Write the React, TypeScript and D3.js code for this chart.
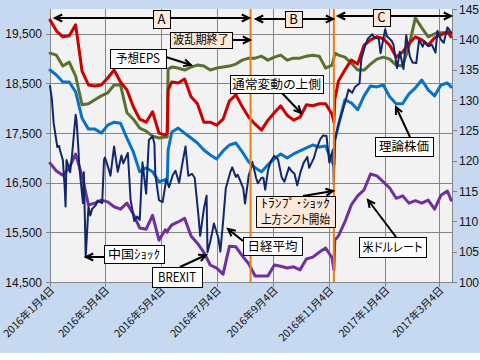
import React from "react";
import * as d3 from "d3";

// ---------- DATA ----------
const dates = [
  "2016-01-04","2016-01-11","2016-01-18","2016-01-25","2016-02-01","2016-02-08","2016-02-15","2016-02-22",
  "2016-02-29","2016-03-07","2016-03-14","2016-03-21","2016-03-28","2016-04-04","2016-04-11","2016-04-18",
  "2016-04-25","2016-05-02","2016-05-09","2016-05-11","2016-05-12","2016-05-16","2016-05-23","2016-05-30",
  "2016-06-06","2016-06-13","2016-06-20","2016-06-27","2016-07-04","2016-07-11","2016-07-18","2016-07-25",
  "2016-08-01","2016-08-08","2016-08-15","2016-08-22","2016-08-29","2016-09-05","2016-09-12","2016-09-19",
  "2016-09-26","2016-10-03","2016-10-10","2016-10-17","2016-10-24","2016-10-31","2016-11-07","2016-11-09",
  "2016-11-10","2016-11-14","2016-11-21","2016-11-28","2016-12-05","2016-12-12","2016-12-19","2016-12-26",
  "2017-01-02","2017-01-09","2017-01-16","2017-01-23","2017-01-30","2017-02-06","2017-02-13","2017-02-20",
  "2017-02-27","2017-03-06","2017-03-13","2017-03-17",
];

// 通常変動の上側 (left axis)
const upperBand = [
  19780,19560,19440,19460,19680,18750,18470,18450,18470,18610,18770,18530,18370,18030,17780,17720,
  17930,17500,17460,17500,18370,18530,18510,18590,18230,18090,17720,17720,17660,17780,18150,18270,
  18030,17820,17680,17560,17760,17910,18050,17860,17760,17820,18070,18050,18090,18090,17880,17720,
  18170,18550,18770,18970,18890,19270,19380,19440,19400,19270,19030,19130,19300,19440,19380,19270,
  19420,19480,19540,19440,
];

// 予想EPS (plotted against left axis)
const forecastEps = [
  19110,19070,18850,18930,18650,18070,18090,18170,18250,18310,18470,18470,17910,17780,17600,17540,
  17440,17400,17420,17420,18790,18830,18810,18770,18830,18870,18850,18770,18810,18830,18850,18890,
  18970,19010,19010,19050,18970,19030,19070,18970,19010,19010,19050,19070,19050,18810,18870,19010,
  19110,19070,19030,18910,18770,18770,18890,18990,19030,18990,18870,18850,19250,19820,19620,19440,
  19500,19520,19520,19520,
];

// 理論株価 (left axis)
const theoreticalPrice = [
  18770,18670,18530,18530,18330,17800,17580,17580,17500,17660,17720,17700,17400,17120,16720,16800,
  16720,16520,16560,16520,17160,17520,17600,17500,17400,17300,17160,17060,16980,17140,17260,17300,
  17120,16920,16800,16720,16860,16980,17080,17000,17080,17140,17200,17260,17220,17240,16920,16860,
  17360,17660,18170,18110,17970,18250,18450,18430,18470,18230,18090,18090,18290,18410,18570,18370,
  18250,18470,18510,18430,
];

// 米ドルレート (right axis)
const usdJpy = [
  119.6,118.3,117.6,118.8,121.1,117.5,112.7,113.0,113.5,113.2,112.4,112.0,113.0,111.2,108.9,108.7,
  111.0,106.9,108.6,108.2,108.6,109.4,109.9,110.5,107.6,106.4,104.9,102.8,102.3,101.3,105.9,105.8,
  104.3,103.0,101.0,101.0,101.0,102.8,102.6,102.3,102.5,102.0,103.8,104.1,104.9,105.6,104.0,102.0,
  106.9,107.6,109.9,112.7,114.2,115.2,117.8,117.5,116.5,115.5,113.8,114.2,113.0,113.4,113.0,113.5,
  112.0,114.3,115.0,113.5,
];

// 日経平均 (left axis)
const nikkeiDates = [
  "2016-01-04","2016-01-06","2016-01-08","2016-01-12","2016-01-14","2016-01-15","2016-01-18","2016-01-20",
  "2016-01-21","2016-01-22","2016-01-26","2016-01-28","2016-02-01","2016-02-02","2016-02-04","2016-02-05",
  "2016-02-09","2016-02-10","2016-02-12","2016-02-15","2016-02-17","2016-02-19","2016-02-23","2016-02-25",
  "2016-03-01","2016-03-03","2016-03-04","2016-03-08","2016-03-10","2016-03-14","2016-03-16","2016-03-18",
  "2016-03-22","2016-03-24","2016-03-29","2016-04-01","2016-04-05","2016-04-08","2016-04-11","2016-04-14",
  "2016-04-18","2016-04-21","2016-04-25","2016-04-27","2016-04-28","2016-05-02","2016-05-06","2016-05-10",
  "2016-05-13","2016-05-17","2016-05-20","2016-05-24","2016-05-27","2016-05-31","2016-06-03","2016-06-07",
  "2016-06-10","2016-06-14","2016-06-16","2016-06-20","2016-06-23","2016-06-24","2016-06-27","2016-06-30",
  "2016-07-01","2016-07-06","2016-07-08","2016-07-11","2016-07-14","2016-07-19","2016-07-21","2016-07-25",
  "2016-07-27","2016-07-29","2016-08-02","2016-08-04","2016-08-08","2016-08-10","2016-08-12","2016-08-16",
  "2016-08-18","2016-08-22","2016-08-24","2016-08-26","2016-08-29","2016-09-01","2016-09-05","2016-09-07",
  "2016-09-09","2016-09-13","2016-09-16","2016-09-21","2016-09-23","2016-09-27","2016-09-30","2016-10-04",
  "2016-10-07","2016-10-11","2016-10-13","2016-10-18","2016-10-21","2016-10-25","2016-10-28","2016-11-01",
  "2016-11-04","2016-11-08","2016-11-09","2016-11-10","2016-11-14","2016-11-17","2016-11-22","2016-11-25",
  "2016-11-29","2016-12-02","2016-12-07","2016-12-09","2016-12-13","2016-12-16","2016-12-21","2016-12-23",
  "2016-12-28","2016-12-30","2017-01-04","2017-01-06","2017-01-11","2017-01-13","2017-01-17","2017-01-20",
  "2017-01-24","2017-01-27","2017-01-31","2017-02-03","2017-02-07","2017-02-10","2017-02-14","2017-02-16",
  "2017-02-20","2017-02-24","2017-02-28","2017-03-02","2017-03-06","2017-03-09","2017-03-13","2017-03-15",
  "2017-03-17",
];
const nikkeiValues = [
  18450,18190,17700,17220,17240,17150,16960,16420,16020,16960,16710,17040,17870,17750,17190,16820,
  16090,16710,15000,16020,15840,15970,16050,16140,16090,16960,17010,16780,16640,17230,16970,16720,
  17050,16890,17100,16160,15730,15820,15750,16910,16280,17360,17440,17290,16670,16150,16110,16570,
  16410,16650,16740,16500,16830,17230,16640,16680,16600,15860,15430,15970,16240,15100,15310,15580,
  15680,15380,15110,15710,16390,16720,16810,16620,16660,16570,16390,16080,16650,16760,16920,16600,
  16490,16600,16600,16360,16740,16930,17040,17010,16970,16610,16520,16810,16750,16680,16450,16740,
  16900,17020,16800,16990,17180,17370,17450,17440,16910,17170,16450,17340,17670,17860,18160,18380,
  18310,18430,18500,19000,19250,19400,19490,19430,19400,19110,19590,19450,19360,19290,18810,19140,
  18790,19470,19040,18920,18910,19380,19240,19350,19250,19280,19120,19560,19380,19320,19630,19580,
  19520,
];

const leftTicks = [14500, 15500, 16500, 17500, 18500, 19500];
const rightTicks = [100, 105, 110, 115, 120, 125, 130, 135, 140, 145];
const xTickDates = [
  "2016-01-04","2016-03-04","2016-05-04","2016-07-04","2016-09-04","2016-11-04","2017-01-04","2017-03-04",
];
const eventDates = ["2016-08-10", "2016-11-09"];

// ---------- STYLE / LAYOUT ----------
const BG = "#c6d9f0";
const PLOT_BG = "#f2f2f2";
const GRID = "#868686";
const PEACH = "#fde9d9";
const JP = "'Noto Sans CJK JP', 'Noto Sans', sans-serif";
const NUM = "'Liberation Sans', Arial, sans-serif";

type Note = { lines: string[]; box: [number, number, number, number]; fill: string; size: number; widths?: number[] };
const notes: Note[] = [
  { lines: ["A"], box: [153, 10, 170, 28], fill: PEACH, size: 13 },
  { lines: ["B"], box: [285, 11, 302, 27], fill: PEACH, size: 13 },
  { lines: ["C"], box: [373, 9, 390, 26], fill: PEACH, size: 13 },
  { lines: ["波乱期終了"], box: [170, 32, 232, 48], fill: PEACH, size: 12, widths: [56] },
  { lines: ["予想EPS"], box: [110, 49, 166, 68], fill: "#ffffff", size: 12.5, widths: [44] },
  { lines: ["通常変動の上側"], box: [230, 75, 323, 93], fill: "#ffffff", size: 12.5, widths: [89] },
  { lines: ["理論株価"], box: [375, 137, 433, 156], fill: "#ffffff", size: 12.5, widths: [50] },
  { lines: ["中国ｼｮｯｸ"], box: [104, 245, 164, 263], fill: "#ffffff", size: 12.5, widths: [52] },
  { lines: ["BREXIT"], box: [152, 267, 202, 287], fill: "#ffffff", size: 12.5, widths: [38] },
  { lines: ["日経平均"], box: [243, 237, 302, 255], fill: "#ffffff", size: 12.5, widths: [50] },
  { lines: ["ﾄﾗﾝﾌﾟ･ｼｮｯｸ", "上方シフト開始"], box: [256, 196, 335, 227], fill: PEACH, size: 12, widths: [69, 69] },
  { lines: ["米ドルレート"], box: [359, 237, 426, 257], fill: "#ffffff", size: 12.5, widths: [60] },
];

type Arrow = { from: [number, number]; to: [number, number]; both?: boolean };
const arrows: Arrow[] = [
  { from: [55, 18], to: [249, 18], both: true },
  { from: [256, 19], to: [333, 19], both: true },
  { from: [338, 16], to: [451, 16], both: true },
  { from: [232, 40], to: [250, 40] },
  { from: [166, 57], to: [191, 65] },
  { from: [282, 93], to: [301, 113] },
  { from: [410, 137], to: [396, 107] },
  { from: [104, 257], to: [86, 257] },
  { from: [180, 267], to: [206, 255] },
  { from: [243, 241], to: [228, 229] },
  { from: [303, 196], to: [333, 191] },
  { from: [396, 237], to: [368, 200] },
];

function head(fx: number, fy: number, tx: number, ty: number, len = 8, ang = 0.45) {
  const a = Math.atan2(ty - fy, tx - fx);
  const p1 = [tx - len * Math.cos(a - ang), ty - len * Math.sin(a - ang)];
  const p2 = [tx - len * Math.cos(a + ang), ty - len * Math.sin(a + ang)];
  return `M${p1[0]},${p1[1]}L${tx},${ty}L${p2[0]},${p2[1]}`;
}

export default function App() {
  const W = 480, H = 360;
  const L = 50, R = 452, T = 9, B = 282;
  const parse = d3.timeParse("%Y-%m-%d");
  const x = d3.scaleTime().domain([parse("2016-01-04")!, parse("2017-03-18")!]).range([L, R]);
  const yL = d3.scaleLinear().domain([14500, 20000]).range([B, T]);
  const yR = d3.scaleLinear().domain([100, 145]).range([B, T]);
  const dts = dates.map((d) => parse(d)!);
  const nDts = nikkeiDates.map((d) => parse(d)!);

  const lineL = d3.line<[Date, number]>().x((d) => x(d[0])).y((d) => yL(d[1]));
  const lineR = d3.line<[Date, number]>().x((d) => x(d[0])).y((d) => yR(d[1]));
  const zip = (ds: Date[], vs: number[]) => ds.map((d, i) => [d, vs[i]] as [Date, number]);

  const fmt = d3.format(",");
  const xLabel = (s: string) => {
    const d = parse(s)!;
    return `${d.getFullYear()}年${d.getMonth() + 1}月${d.getDate()}日`;
  };

  return (
    <svg width={W} height={H} style={{ position: "absolute", left: 0, top: 0, background: "#fff" }}>
      <rect x={0} y={0} width={480} height={353} fill={BG} />
      <rect x={L} y={T} width={R - L} height={B - T} fill={PLOT_BG} />
      <g shapeRendering="crispEdges" stroke={GRID} strokeWidth={1}>
        {leftTicks.slice(1).map((t) => (
          <line key={"h" + t} x1={L} x2={R} y1={Math.round(yL(t)) + 0.5} y2={Math.round(yL(t)) + 0.5} />
        ))}
        {xTickDates.map((s) => {
          const xx = Math.round(x(parse(s)!)) + 0.5;
          return <line key={"v" + s} x1={xx} x2={xx} y1={T} y2={B + 5} />;
        })}
        <line x1={L + 0.5} x2={L + 0.5} y1={T} y2={B} />
        <line x1={R + 0.5} x2={R + 0.5} y1={T} y2={B} />
        <line x1={L} x2={R} y1={B + 0.5} y2={B + 0.5} />
        {leftTicks.map((t) => (
          <line key={"lt" + t} x1={L - 4} x2={L} y1={Math.round(yL(t)) + 0.5} y2={Math.round(yL(t)) + 0.5} />
        ))}
        {rightTicks.map((t) => (
          <line key={"rt" + t} x1={R} x2={R + 5} y1={Math.round(yR(t)) + 0.5} y2={Math.round(yR(t)) + 0.5} />
        ))}
      </g>
      {leftTicks.map((t) => (
        <text key={"ll" + t} x={42} y={yL(t) + 4.5} textAnchor="end" fontFamily={NUM} fontSize={12} fill="#111">
          {fmt(t)}
        </text>
      ))}
      {rightTicks.map((t) => (
        <text key={"rl" + t} x={459} y={yR(t) + 4.5} textAnchor="start" fontFamily={NUM} fontSize={12} fill="#111">
          {t}
        </text>
      ))}
      {xTickDates.map((s) => {
        const xx = x(parse(s)!);
        return (
          <text key={"xl" + s} transform={`translate(${xx + 5},${291}) rotate(-45)`} textAnchor="end"
            fontFamily={JP} fontSize={10.5} fill="#111">
            {xLabel(s)}
          </text>
        );
      })}

      <g fill="none" strokeLinejoin="round" strokeLinecap="round">
        <path d={lineL(zip(dts, forecastEps))!} stroke="#5a702e" strokeWidth={3} />
        <path d={lineL(zip(dts, upperBand))!} stroke="#cc0000" strokeWidth={3} />
        <path d={lineL(zip(dts, theoreticalPrice))!} stroke="#0a72c4" strokeWidth={3} />
        <path d={lineR(zip(dts, usdJpy))!} stroke="#7030a0" strokeWidth={3} />
        <path d={lineL(zip(nDts, nikkeiValues))!} stroke="#12276b" strokeWidth={2} />
      </g>

      {eventDates.map((s) => {
        const xx = x(parse(s)!);
        return <line key={"ev" + s} x1={xx} x2={xx} y1={T} y2={B} stroke="#f07c14" strokeWidth={2} />;
      })}

      <g stroke="#000" strokeWidth={2} fill="none">
        {arrows.map((a, i) => (
          <g key={"ar" + i}>
            <line x1={a.from[0]} y1={a.from[1]} x2={a.to[0]} y2={a.to[1]} />
            <path d={head(a.from[0], a.from[1], a.to[0], a.to[1])} />
            {a.both && <path d={head(a.to[0], a.to[1], a.from[0], a.from[1])} />}
          </g>
        ))}
      </g>

      {notes.map((n, i) => {
        const [x0, y0, x1, y1] = n.box;
        const cx = (x0 + x1) / 2;
        const h = y1 - y0;
        const lh = h / n.lines.length;
        return (
          <g key={"n" + i}>
            <rect x={x0 + 0.5} y={y0 + 0.5} width={x1 - x0} height={y1 - y0} fill={n.fill} stroke="#000" strokeWidth={1} />
            {n.lines.map((ln, j) => (
              <text key={j} x={cx} y={y0 + lh * j + lh / 2 + n.size * 0.36} textAnchor="middle"
                fontFamily={JP} fontSize={n.size} fill="#000"
                style={{ fontFeatureSettings: '"palt" 1' }}
                {...(n.widths ? { textLength: n.widths[j], lengthAdjust: "spacingAndGlyphs" } : {})}>
                {ln}
              </text>
            ))}
          </g>
        );
      })}
    </svg>
  );
}
